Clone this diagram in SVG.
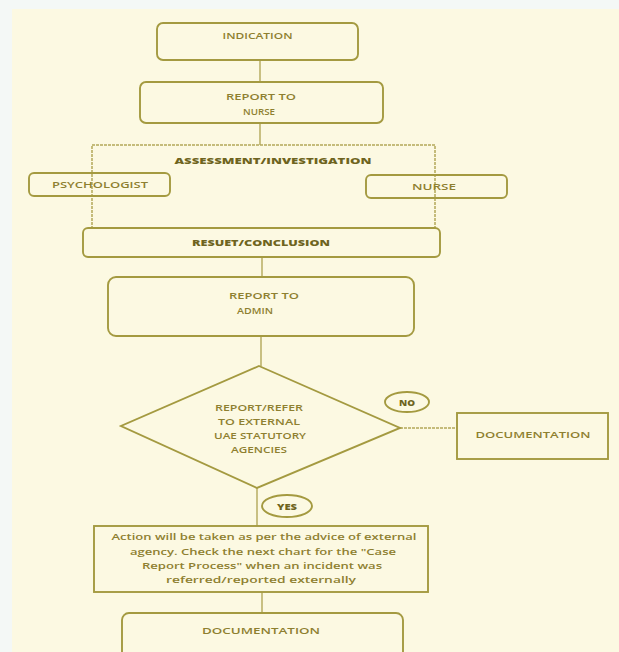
<svg xmlns="http://www.w3.org/2000/svg" width="619" height="652" viewBox="0 0 619 652">
<defs>
<style>
.bx{fill:none;stroke:#a49a40;stroke-width:1.9}
.ln{fill:none;stroke:#b3a85a;stroke-width:1.4}
.dl{fill:none;stroke:#b3a85a;stroke-width:1.5;stroke-dasharray:3 1}
.t{font-family:"Open Sans","Liberation Sans",sans-serif;font-size:9.5px;font-weight:600;fill:#8e8030;text-anchor:middle}
.tb{font-family:"Open Sans","Liberation Sans",sans-serif;font-size:9.5px;font-weight:800;fill:#6e6420;text-anchor:middle}
.ta{font-family:"Open Sans","Liberation Sans",sans-serif;font-size:9px;font-weight:600;fill:#8e8030;text-anchor:middle}
</style>
</defs>
<rect x="0" y="0" width="619" height="652" fill="#f4f8f6"/>
<rect x="12" y="9" width="607" height="643" fill="#fcf9e2"/>
<g id="connectors">
<line class="ln" x1="260" y1="60" x2="260" y2="82"/>
<line class="ln" x1="260" y1="123" x2="260" y2="145"/>
<path class="dl" d="M92,229 V145 H435 V229"/>
<line class="ln" x1="262" y1="257" x2="262" y2="277"/>
<line class="ln" x1="261" y1="336" x2="261" y2="366"/>
<line class="dl" x1="400" y1="428" x2="457" y2="428"/>
<line class="ln" x1="257" y1="488" x2="257" y2="526"/>
<line class="ln" x1="262" y1="592" x2="262" y2="613"/>
</g>
<g id="indication">
<rect class="bx" x="157" y="23" width="201" height="37" rx="6"/>
<text class="t" x="257.5" y="39" textLength="70" lengthAdjust="spacingAndGlyphs">INDICATION</text>
</g>
<g id="report-nurse">
<rect class="bx" x="140" y="82" width="243" height="41" rx="6"/>
<text class="t" x="261" y="100" textLength="70" lengthAdjust="spacingAndGlyphs">REPORT TO</text>
<text class="t" x="259" y="115" textLength="32" lengthAdjust="spacingAndGlyphs">NURSE</text>
</g>
<g id="assessment">
<text class="tb" x="273" y="164" textLength="197" lengthAdjust="spacingAndGlyphs">ASSESSMENT/INVESTIGATION</text>
</g>
<g id="psychologist">
<rect class="bx" x="29" y="173" width="141" height="23" rx="5" fill="#fcf9e2"/>
<text class="t" x="100" y="188" textLength="96" lengthAdjust="spacingAndGlyphs">PSYCHOLOGIST</text>
</g>
<g id="nurse">
<rect class="bx" x="366" y="175" width="141" height="23" rx="5" fill="#fcf9e2"/>
<text class="t" x="434" y="190" textLength="44" lengthAdjust="spacingAndGlyphs">NURSE</text>
</g>
<g id="result">
<rect class="bx" x="83" y="228" width="357" height="29" rx="5"/>
<text class="tb" x="261" y="246" textLength="138" lengthAdjust="spacingAndGlyphs">RESUET/CONCLUSION</text>
</g>
<g id="report-admin">
<rect class="bx" x="108" y="277" width="306" height="59" rx="8"/>
<text class="t" x="264" y="299" textLength="70" lengthAdjust="spacingAndGlyphs">REPORT TO</text>
<text class="t" x="255" y="314" textLength="36" lengthAdjust="spacingAndGlyphs">ADMIN</text>
</g>
<g id="decision">
<polygon class="bx" points="259,366 400,428 257,488 121,426"/>
<text class="t" x="259" y="411" textLength="88" lengthAdjust="spacingAndGlyphs">REPORT/REFER</text>
<text class="t" x="259" y="425" textLength="82" lengthAdjust="spacingAndGlyphs">TO EXTERNAL</text>
<text class="t" x="260" y="439" textLength="92" lengthAdjust="spacingAndGlyphs">UAE STATUTORY</text>
<text class="t" x="259" y="453" textLength="56" lengthAdjust="spacingAndGlyphs">AGENCIES</text>
</g>
<g id="no-label">
<ellipse class="bx" cx="407" cy="402" rx="22" ry="10"/>
<text class="tb" x="407" y="405.5" textLength="16" lengthAdjust="spacingAndGlyphs">NO</text>
</g>
<g id="documentation-right">
<rect class="bx" x="457" y="413" width="151" height="46"/>
<text class="t" x="533" y="438" textLength="115" lengthAdjust="spacingAndGlyphs">DOCUMENTATION</text>
</g>
<g id="yes-label">
<ellipse class="bx" cx="287" cy="506" rx="25" ry="11" fill="#fcf9e2"/>
<text class="tb" x="287" y="509.5" textLength="20" lengthAdjust="spacingAndGlyphs">YES</text>
</g>
<g id="action">
<rect class="bx" x="94" y="526" width="334" height="66"/>
<text class="ta" x="264" y="540" textLength="305" lengthAdjust="spacingAndGlyphs">Action will be taken as per the advice of external</text>
<text class="ta" x="263" y="555" textLength="266" lengthAdjust="spacingAndGlyphs">agency. Check the next chart for the "Case</text>
<text class="ta" x="262" y="569" textLength="240" lengthAdjust="spacingAndGlyphs">Report  Process" when an incident was</text>
<text class="ta" x="261" y="583" textLength="190" lengthAdjust="spacingAndGlyphs">referred/reported externally</text>
</g>
<g id="documentation-bottom">
<rect class="bx" x="122" y="613" width="281" height="50" rx="7"/>
<text class="t" x="261" y="634" textLength="118" lengthAdjust="spacingAndGlyphs">DOCUMENTATION</text>
</g>
</svg>
